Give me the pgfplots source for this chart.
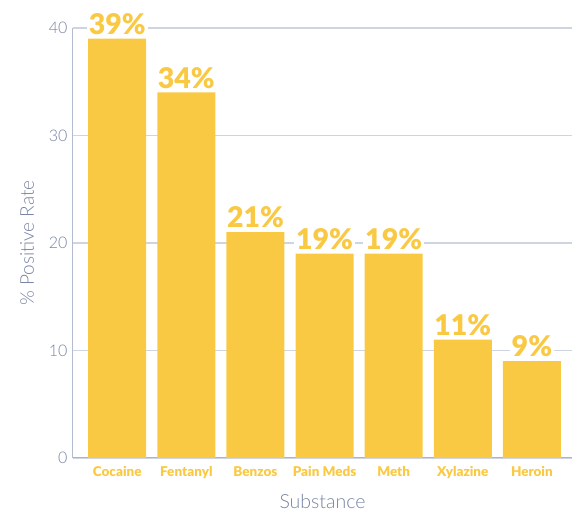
\documentclass[border=0pt]{standalone}
\usepackage{pgfplots}
\pgfplotsset{compat=1.18}
\usepackage{fontspec}
\setmainfont{Lato}
\newfontfamily\latolight{Lato Light}
\newfontfamily\latoblack{Lato Black}
\definecolor{baryellow}{HTML}{FAC943}
\definecolor{axisgray}{HTML}{7782A2}
\definecolor{gridc}{HTML}{CED5E1}
\definecolor{yline}{HTML}{B3BCCF}
\definecolor{xline}{HTML}{A3B5DC}
\begin{document}
\begin{tikzpicture}
\begin{axis}[
  scale only axis, width=499pt, height=430pt,
  ymin=0, ymax=40, xmin=-0.64, xmax=6.58,
  ytick={0,10,20,30,40},
  xtick=data,
  xticklabels={Cocaine,Fentanyl,Benzos,Pain Meds,Meth,Xylazine,Heroin},
  axis x line*=bottom, axis y line*=left,
  x axis line style={-, draw=xline, line width=1pt},
  y axis line style={-, draw=yline, line width=1pt},
  major tick length=0pt,
  ymajorgrids, grid style={draw=gridc, line width=1.2pt},
  /pgf/number format/assume math mode=true,
  yticklabel style={font=\latolight\fontsize{16}{16}\selectfont, text=axisgray, xshift=-2pt},
  xticklabel style={font=\latoblack\fontsize{13.5}{13.5}\selectfont, text=baryellow, yshift=-5pt},
  ylabel={\% Positive Rate},
  xlabel={Substance},
  ylabel style={font=\latolight\fontsize{19}{19}\selectfont, text=axisgray, yshift=8pt},
  xlabel style={font=\latolight\fontsize{19.5}{19.5}\selectfont, text=axisgray, yshift=-9pt},
  ybar, bar width=58pt, bar shift=0pt,
  nodes near coords={\pgfmathprintnumber{\pgfplotspointmeta}\%},
  every node near coord/.append style={font=\latoblack\fontsize{28.5}{28.5}\selectfont, text=baryellow, fill=white, inner xsep=2pt, inner ysep=1pt, yshift=3pt},
]
\addplot[fill=baryellow, draw=none] coordinates {(0,39) (1,34) (2,21) (3,19) (4,19) (5,11) (6,9)};
\end{axis}
\pgfresetboundingbox
\path ([shift={(-73pt,-55pt)}]current axis.south west) rectangle ([shift={(0pt,28pt)}]current axis.north east);
\end{tikzpicture}
\end{document}
